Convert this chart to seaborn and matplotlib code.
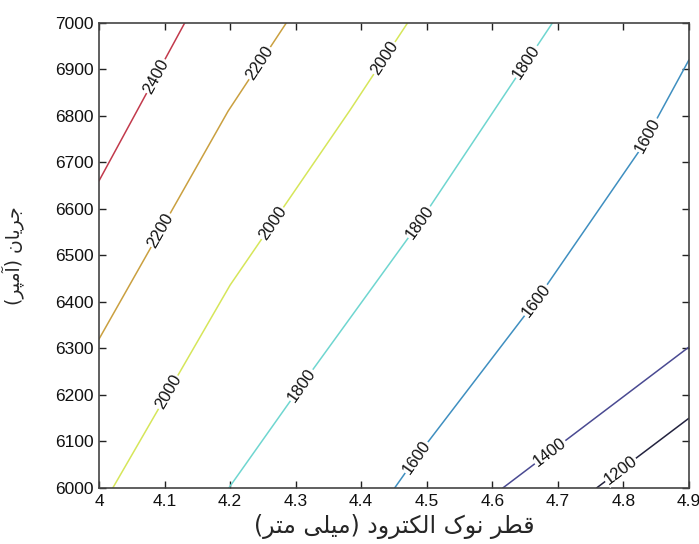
import numpy as np
import pandas as pd
import matplotlib
matplotlib.use("Agg")
import matplotlib.pyplot as plt
import seaborn as sns

sns.set_style("ticks")
plt.rcParams["font.family"] = ["Liberation Sans", "DejaVu Sans"]

# contour levels and the traced line of each level (x = electrode tip diameter, y = current)
LEVELS = [1200, 1400, 1600, 1800, 2000, 2200, 2400]
X_1200 = [4.759, 4.9]
Y_1200 = [6000, 6150]
X_1400 = [4.616, 4.9]
Y_1400 = [6000, 6303]
X_1600 = [4.451, 4.484, 4.667, 4.825, 4.9]
Y_1600 = [6000, 6066, 6403, 6726, 6920]
X_1800 = [4.198, 4.309, 4.489, 4.692]
Y_1800 = [6000, 6221, 6571, 7000]
X_2000 = [4.021, 4.2, 4.383, 4.471]
Y_2000 = [6000, 6436, 6812, 7000]
X_2200 = [4.0, 4.197, 4.286]
Y_2200 = [6320, 6810, 7000]
X_2400 = [4.0, 4.131]
Y_2400 = [6660, 7000]

# y positions of the inline labels on each level
LABEL_Y = [[6039], [6077], [6066, 6403, 6758], [6221, 6571, 6916],
           [6206, 6569, 6924], [6554, 6913], [6885]]

X_TICKS = [4.0, 4.1, 4.2, 4.3, 4.4, 4.5, 4.6, 4.7, 4.8, 4.9]
X_TICKLABELS = ["4", "4.1", "4.2", "4.3", "4.4", "4.5", "4.6", "4.7", "4.8", "4.9"]
Y_TICKS = list(range(6000, 7001, 100))

XLABEL = "قطر نوک الکترود (میلی متر)"
YLABEL = "جریان (آمپر)"

COLORS = ["#23233f", "#4a4a92", "#3f8fc0", "#6fd6d0", "#d6e65a", "#caa040", "#c23a4c"]

xs = [X_1200, X_1400, X_1600, X_1800, X_2000, X_2200, X_2400]
ys = [Y_1200, Y_1400, Y_1600, Y_1800, Y_2000, Y_2200, Y_2400]
df = pd.concat([pd.DataFrame({"x": x, "y": y, "level": lv})
                for lv, x, y in zip(LEVELS, xs, ys)], ignore_index=True)

# minimal Arabic shaping (presentation forms + visual order) since matplotlib has no bidi
FORMS = {
    "ج": ("\uFE9D", "\uFE9E", "\uFE9F", "\uFEA0"),
    "ی": ("\uFBFC", "\uFBFD", "\uFBFE", "\uFBFF"),
    "ن": ("\uFEE5", "\uFEE6", "\uFEE7", "\uFEE8"),
    "م": ("\uFEE1", "\uFEE2", "\uFEE3", "\uFEE4"),
    "پ": ("\uFB56", "\uFB57", "\uFB58", "\uFB59"),
    "ق": ("\uFED5", "\uFED6", "\uFED7", "\uFED8"),
    "ط": ("\uFEC1", "\uFEC2", "\uFEC3", "\uFEC4"),
    "ک": ("\uFB8E", "\uFB8F", "\uFB90", "\uFB91"),
    "ل": ("\uFEDD", "\uFEDE", "\uFEDF", "\uFEE0"),
    "ت": ("\uFE95", "\uFE96", "\uFE97", "\uFE98"),
    "ر": ("\uFEAD", "\uFEAE", None, None),
    "ا": ("\uFE8D", "\uFE8E", None, None),
    "آ": ("\uFE81", "\uFE82", None, None),
    "و": ("\uFEED", "\uFEEE", None, None),
    "د": ("\uFEA9", "\uFEAA", None, None),
}


def shape(text):
    out = []
    for i, c in enumerate(text):
        if c not in FORMS:
            out.append(c)
            continue
        prev = text[i - 1] if i > 0 else ""
        nxt = text[i + 1] if i + 1 < len(text) else ""
        jp = prev in FORMS and FORMS[prev][2] is not None
        jn = FORMS[c][2] is not None and nxt in FORMS
        f = FORMS[c]
        out.append(f[3] if jp and jn else f[1] if jp else f[2] if jn else f[0])
    return "".join(out)[::-1].translate(str.maketrans("()", ")("))


fig = plt.figure(figsize=(6.99, 5.44), dpi=100)
ax = fig.add_axes([0.1416, 0.1029, 0.844, 0.8554])

sns.lineplot(data=df, x="x", y="y", hue="level", palette=COLORS, sort=False,
             estimator=None, legend=False, linewidth=1.1, ax=ax)

ax.set_xlim(4.0, 4.9)
ax.set_ylim(6000, 7000)
ax.set_xticks(X_TICKS)
ax.set_xticklabels(X_TICKLABELS)
ax.set_yticks(Y_TICKS)
ax.tick_params(direction="in", length=5, width=1, top=True, right=True,
               labelsize=12.5, colors="#222222", pad=4)
ax.tick_params(labelcolor="#111111")
for sp in ax.spines.values():
    sp.set_visible(True)
    sp.set_color("#444444")
    sp.set_linewidth(1.2)

# inline contour labels, rotated along the line
for lv, x, y, labs in zip(LEVELS, xs, ys, LABEL_Y):
    pts = ax.transData.transform(np.column_stack([x, y]))
    for ly in labs:
        lx = np.interp(ly, y, x)
        k = min(max(np.searchsorted(y, ly), 1), len(y) - 1)
        d = pts[k] - pts[k - 1]
        ang = np.degrees(np.arctan2(d[1], d[0]))
        if ang > 90:
            ang -= 180
        ax.text(lx, ly, str(lv), rotation=ang, rotation_mode="anchor",
                ha="center", va="center", fontsize=12, color="#111111",
                bbox=dict(facecolor="white", edgecolor="none", pad=0.5))

ax.set_xlabel(shape(XLABEL), fontsize=17, family=["DejaVu Sans"], labelpad=4)
ax.set_ylabel(shape(YLABEL), fontsize=13.5, family=["DejaVu Sans"], labelpad=22)

fig.savefig("out.png", dpi=100)
